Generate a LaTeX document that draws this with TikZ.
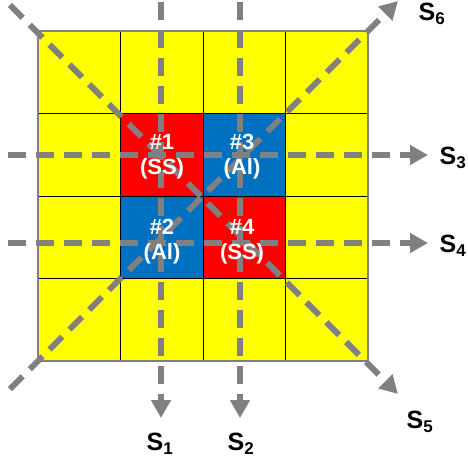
\documentclass[tikz,border=0pt]{standalone}
\usepackage{fontspec}
\setmainfont{Liberation Sans}
\usetikzlibrary{arrows.meta}
\definecolor{cyel}{RGB}{255,255,0}
\definecolor{cred}{RGB}{255,0,0}
\definecolor{cblue}{RGB}{0,112,192}
\definecolor{cgray}{RGB}{128,128,128}
\tikzset{
  cellbox/.style={draw=black,line width=0.8pt,minimum width=82.5pt,minimum height=82.5pt,inner sep=0pt,outer sep=0pt,anchor=north west},
  celltext/.style={text=white,font=\fontsize{22}{25}\selectfont\bfseries,align=center},
  scan/.style={draw=cgray,line width=6pt,dash pattern=on 18pt off 10pt,-{Triangle[length=18pt,width=19pt]}},
  lab/.style={font=\fontsize{25}{28}\selectfont\bfseries,text=black,inner sep=0pt}
}
\newcommand{\slab}[1]{S\textsubscript{\fontsize{17}{17}\selectfont\bfseries #1}}
\begin{document}
\begin{tikzpicture}[x=1pt,y=-1pt]
\useasboundingbox (0,0) rectangle (468,465);
% grid cells
\foreach \i in {0,1,2,3}{
  \foreach \j in {0,1,2,3}{
    \node[cellbox,fill=cyel] (c\i\j) at (38+82.5*\i,31+82.5*\j) {};
  }
}
\node[cellbox,fill=cred]  (k1) at (120.5,113.5) {};
\node[cellbox,fill=cblue] (k3) at (203,113.5) {};
\node[cellbox,fill=cblue] (k2) at (120.5,196) {};
\node[cellbox,fill=cred]  (k4) at (203,196) {};
\draw[cgray,line width=1.5pt] (38,31) rectangle (368,361);
% scan lines
\coordinate (a1) at (161,2);   \coordinate (b1) at (161,418);
\coordinate (a2) at (240,2);   \coordinate (b2) at (240,418);
\coordinate (a3) at (8,155);   \coordinate (b3) at (428,155);
\coordinate (a4) at (8,243);   \coordinate (b4) at (428,243);
\coordinate (a5) at (10,5);    \coordinate (b5) at (398,394);
\coordinate (a6) at (10,389);  \coordinate (b6) at (398,1);
\draw[scan] (a1) -- (b1);
\draw[scan] (a2) -- (b2);
\draw[scan] (a3) -- (b3);
\draw[scan] (a4) -- (b4);
\draw[scan] (a5) -- (b5);
\draw[scan] (a6) -- (b6);
% cell texts
\node[celltext] (t1) at (162,157) {\#1\\(SS)};
\node[celltext] (t3) at (242,157) {\#3\\(Al)};
\node[celltext] (t2) at (162,242) {\#2\\(Al)};
\node[celltext] (t4) at (242,242) {\#4\\(SS)};
% labels
\node[lab] (s1) at (160,444) {\slab{1}};
\node[lab] (s2) at (241,444) {\slab{2}};
\node[lab] (s3) at (453,158) {\slab{3}};
\node[lab] (s4) at (453,246) {\slab{4}};
\node[lab] (s5) at (420,422) {\slab{5}};
\node[lab] (s6) at (432,14) {\slab{6}};
\end{tikzpicture}
\end{document}
